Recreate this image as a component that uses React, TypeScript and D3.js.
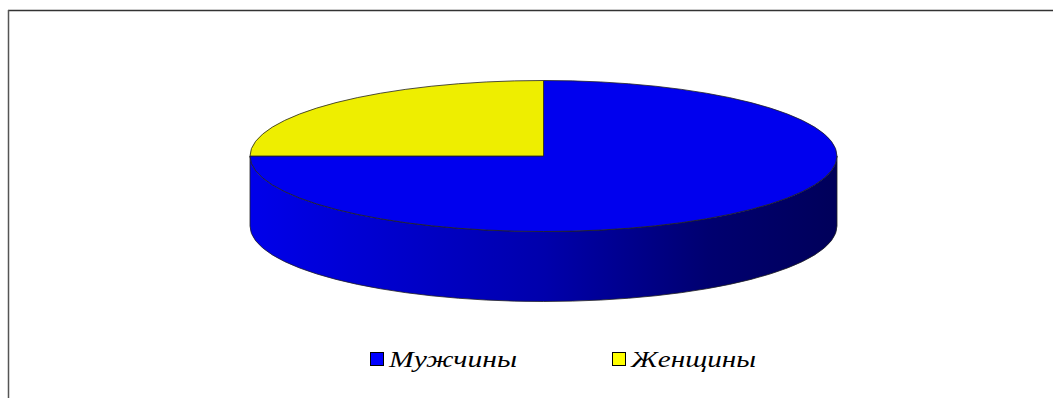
import React from "react";
import * as d3 from "d3";

const categories = ["Мужчины", "Женщины"];
const values = [75, 25];
const colors = ["#0000EE", "#EEEE00"];
const legendColors = ["#0000FF", "#FFFF00"];

const W = 1053;
const H = 398;
const cx = 543.5;
const cy = 156;
const rx = 293.5;
const ry = 75.5;
const depth = 70;

function pt(a: number, dy = 0): [number, number] {
  return [cx + rx * Math.sin(a), cy - ry * Math.cos(a) + dy];
}

export default function App() {
  const pie = d3.pie<number>().sort(null).value((d) => d);
  const arcs = pie(values);

  const topPath = (a0: number, a1: number) => {
    const p0 = pt(a0);
    const p1 = pt(a1);
    const large = a1 - a0 > Math.PI ? 1 : 0;
    return `M${cx},${cy}L${p0[0]},${p0[1]}A${rx},${ry} 0 ${large} 1 ${p1[0]},${p1[1]}Z`;
  };

  const wallPath = (a0: number, a1: number) => {
    const s = Math.max(a0, Math.PI / 2);
    const e = Math.min(a1, (3 * Math.PI) / 2);
    if (e <= s) return null;
    const p0 = pt(s);
    const p1 = pt(e);
    const q1 = pt(e, depth);
    const q0 = pt(s, depth);
    return `M${p0[0]},${p0[1]}A${rx},${ry} 0 0 1 ${p1[0]},${p1[1]}L${q1[0]},${q1[1]}A${rx},${ry} 0 0 0 ${q0[0]},${q0[1]}Z`;
  };

  const legendX = [370, 612];
  const legendTextW = [128, 125];

  return (
    <svg
      width={W}
      height={H}
      style={{ position: "absolute", left: 0, top: 0, background: "#fff" }}
    >
      <defs>
        <linearGradient id="wallBlue" gradientUnits="userSpaceOnUse" x1={cx - rx} y1={0} x2={cx + rx} y2={0}>
          <stop offset="0" stopColor="#0000EA" />
          <stop offset="0.5" stopColor="#0000AC" />
          <stop offset="0.78" stopColor="#000070" />
          <stop offset="1" stopColor="#00005A" />
        </linearGradient>
      </defs>
      <line x1={8} y1={10.5} x2={W} y2={10.5} stroke="#333" strokeWidth={1.5} />
      <line x1={8.5} y1={10} x2={8.5} y2={H} stroke="#555" strokeWidth={1.5} />

      {arcs.map((a, i) => {
        const d = wallPath(a.startAngle, a.endAngle);
        return d ? (
          <path key={"w" + i} d={d} fill={i === 0 ? "url(#wallBlue)" : "#9a9a00"} stroke="#222" strokeWidth={0.8} />
        ) : null;
      })}
      {arcs.map((a, i) => (
        <path key={"t" + i} d={topPath(a.startAngle, a.endAngle)} fill={colors[i]} stroke="#222" strokeWidth={0.8} strokeLinejoin="round" />
      ))}

      {categories.map((c, i) => (
        <g key={c}>
          <rect x={legendX[i] + 0.5} y={352.5} width={13} height={13} fill={legendColors[i]} stroke="#000" strokeWidth={1} />
          <text
            x={legendX[i] + 19}
            y={367}
            textLength={legendTextW[i]}
            lengthAdjust="spacingAndGlyphs"
            style={{ fontFamily: '"Liberation Serif", "Times New Roman", serif', fontStyle: "italic", fontSize: "23px" }}
            fill="#000"
          >
            {c}
          </text>
        </g>
      ))}
    </svg>
  );
}
